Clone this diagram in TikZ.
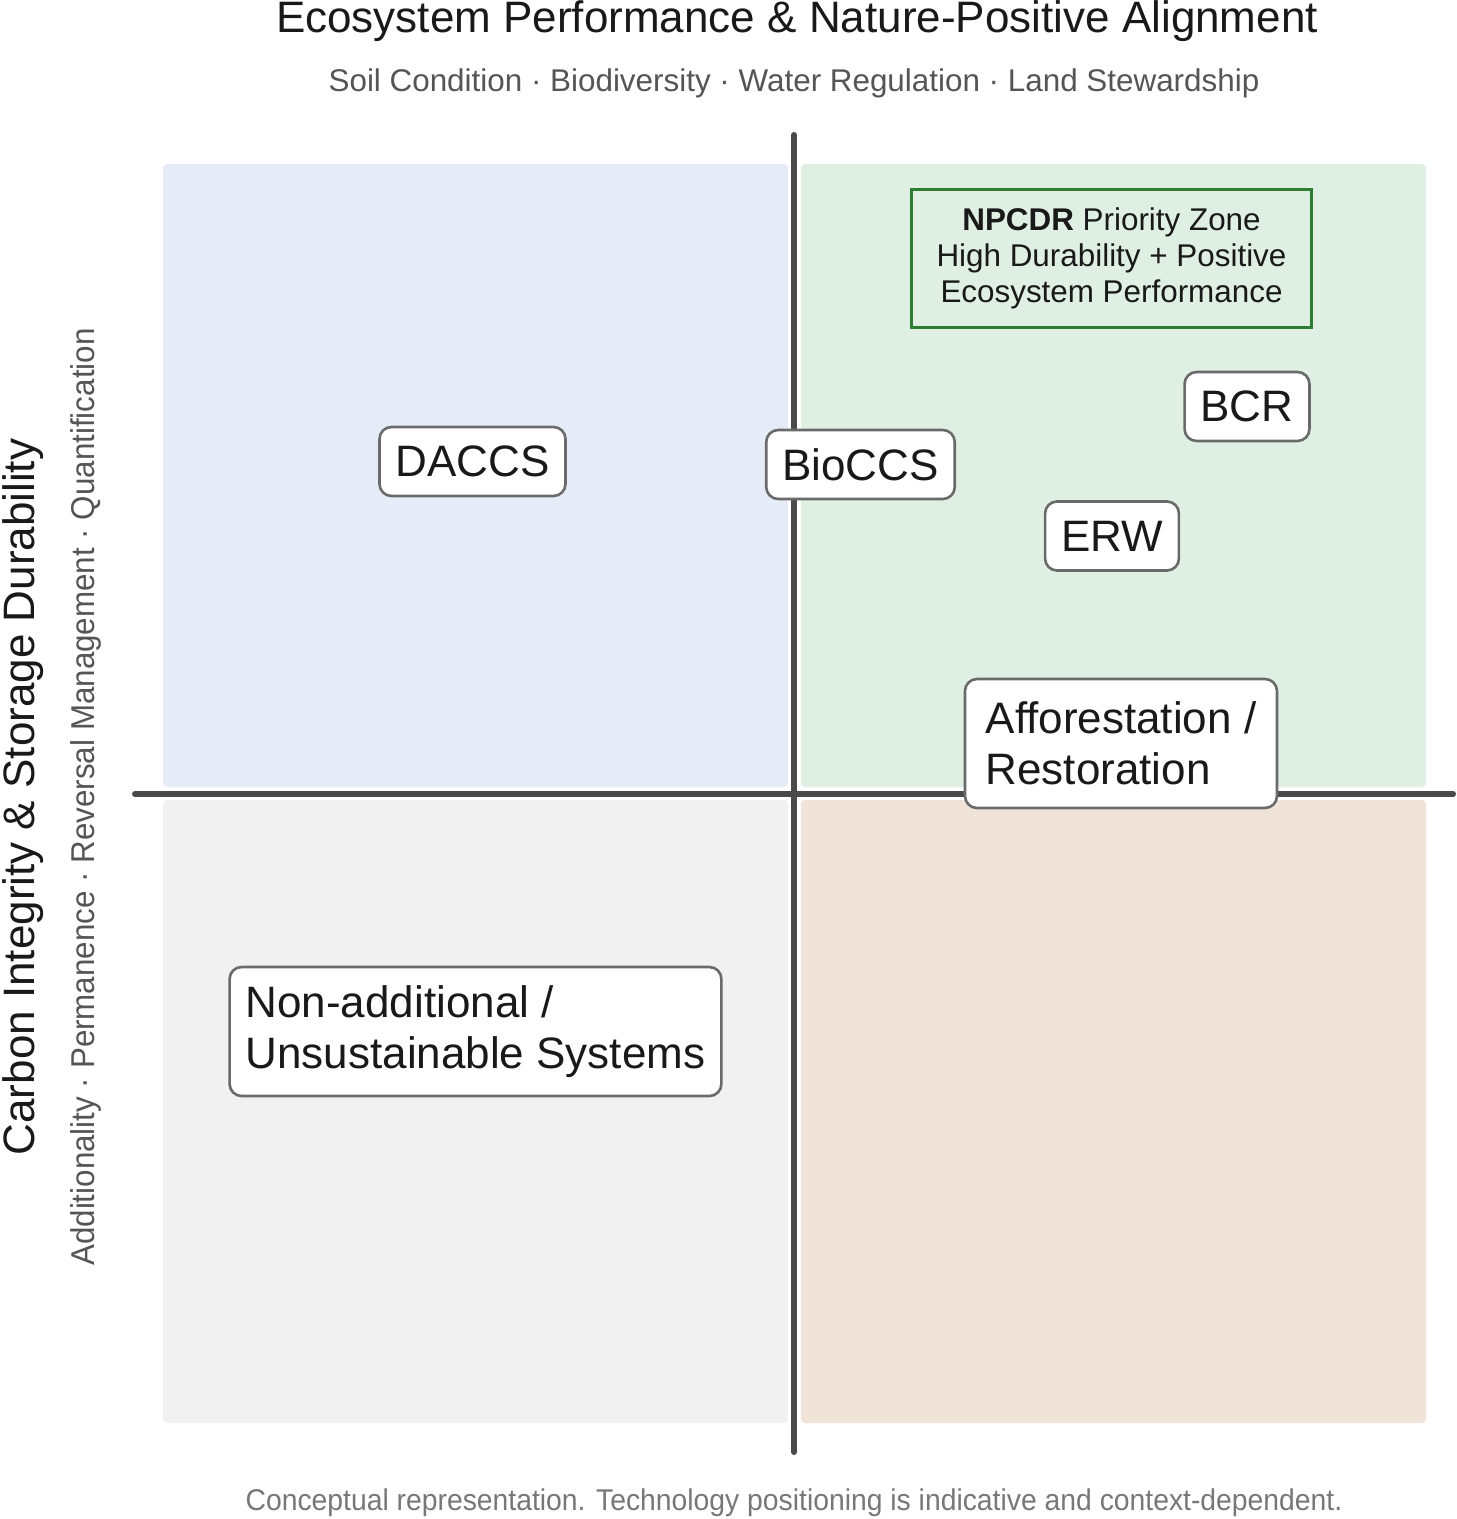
\documentclass[tikz,border=0pt]{standalone}
\usepackage{fontspec}
\setmainfont{Liberation Sans}
\definecolor{axisgray}{HTML}{4A4A4A}
\definecolor{boxgray}{HTML}{6A6A6A}
\definecolor{subgray}{HTML}{555555}
\definecolor{notegray}{HTML}{777777}
\definecolor{qblue}{HTML}{E6ECF7}
\definecolor{qgreen}{HTML}{DFEFE3}
\definecolor{qgray}{HTML}{F1F1F1}
\definecolor{qtan}{HTML}{F0E4D9}
\definecolor{zonegreen}{HTML}{2E7D32}
\begin{document}
\begin{tikzpicture}[
  x=0.5pt, y=-0.5pt,
  quad/.style={rounded corners=2pt, draw=none},
  tech/.style={rectangle, rounded corners=6pt, draw=boxgray, line width=1.3pt, fill=white,
    font=\fontsize{22}{25.5}\selectfont, inner xsep=8pt, minimum height=34.5pt},
  zone/.style={rectangle, draw=zonegreen, line width=1.5pt, fill=qgreen, align=center,
    font=\fontsize{15.7}{18}\selectfont, minimum width=200pt, minimum height=69pt},
  axis/.style={line width=3pt, draw=axisgray, line cap=round},
  every node/.style={text=black!90}
]
\useasboundingbox (0,0) rectangle (1456,1519);

% Quadrants
\fill[quad, qblue]  (163,164) rectangle (788,787);
\fill[quad, qgreen] (801,164) rectangle (1426,787);
\fill[quad, qgray]  (163,800) rectangle (788,1423);
\fill[quad, qtan]   (801,800) rectangle (1426,1423);

% Axes
\coordinate (yt) at (794,135);
\coordinate (yb) at (794,1452);
\coordinate (xl) at (135,794);
\coordinate (xr) at (1453,794);
\draw[axis] (yt) -- (yb);
\draw[axis] (xl) -- (xr);

% Titles
\node[anchor=base, font=\fontsize{22}{26}\selectfont] (title) at (797,33) {Ecosystem Performance \& Nature-Positive Alignment};
\node[anchor=base, font=\fontsize{15.7}{18}\selectfont, text=subgray] (subtitle) at (794,92) {Soil Condition · Biodiversity · Water Regulation · Land Stewardship};
\node[rotate=90, font=\fontsize{22}{26}\selectfont] (ylabel) at (23,797) {Carbon Integrity \& Storage Durability};
\node[rotate=90, font=\fontsize{16.5}{19}\selectfont, text=subgray] (ysub) at (86,797) {\scalebox{0.95}[1]{Additionality · Permanence · Reversal Management · Quantification}};
\node[font=\fontsize{15}{17}\selectfont, text=notegray] (note) at (794,1503) {\scalebox{0.944}[1]{Conceptual representation. Technology positioning is indicative and context-dependent.}};

% Priority zone
\node[zone] (npcdr) at (1111.5,258.5) {\textbf{NPCDR} Priority Zone\\High Durability + Positive\\Ecosystem Performance};

% Technologies
\node[tech] (daccs) at (472.5,461.5) {DACCS};
\node[tech] (bioccs) at (860.5,464.5) {BioCCS};
\node[tech] (bcr) at (1247,406.5) {BCR};
\node[tech] (erw) at (1112,536) {ERW};
\node[tech, align=left, minimum height=64.5pt, minimum width=156pt] (affor) at (1121,743.5) {Afforestation /\\Restoration};
\node[tech, align=left, minimum height=64.5pt] (nonadd) at (475.5,1031.5) {Non-additional /\\Unsustainable Systems};
\end{tikzpicture}
\end{document}
